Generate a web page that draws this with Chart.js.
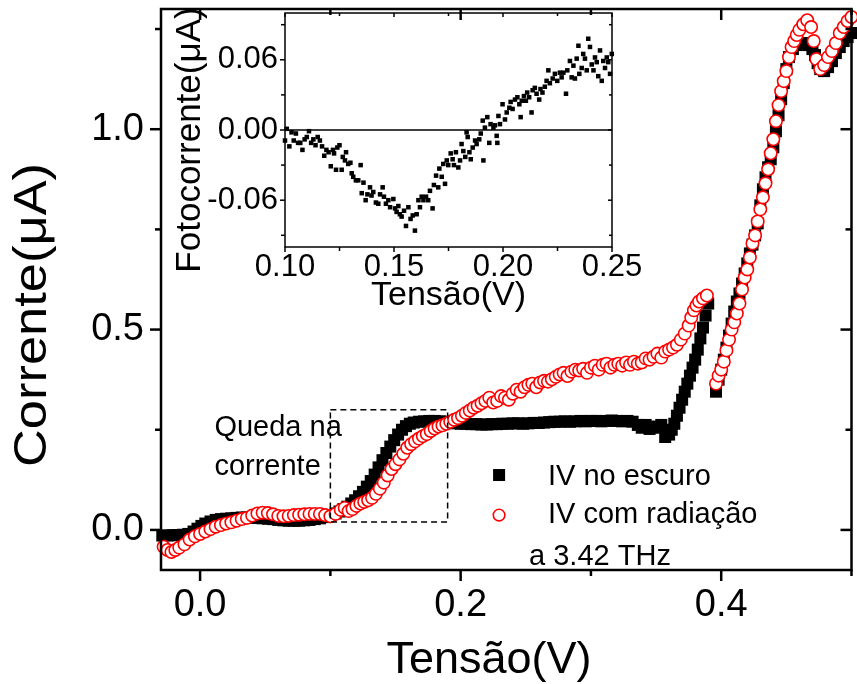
<!DOCTYPE html>
<html>
<head>
<meta charset="utf-8">
<script src="https://cdn.jsdelivr.net/npm/chart.js@4.4.1/dist/chart.umd.min.js"></script>
<style>
  html, body { margin: 0; padding: 0; background: #fff; overflow: hidden; }
  #wrap { position: relative; width: 857px; height: 684px; overflow: hidden; }
  #main { position: absolute; left: 0; top: 0; }
  #inset { position: absolute; left: 165px; top: 0; }
</style>
</head>
<body>
<div id="wrap">
  <canvas id="main" width="860" height="684"></canvas>
  <canvas id="inset" width="480" height="315"></canvas>
</div>
<script>
// IV curve in the dark (V, µA)
const darkV = [-0.029,-0.025,-0.021,-0.017,-0.013,-0.009,-0.005,-0.002,0.001,0.004,
  0.008,0.012,0.016,0.020,0.024,0.028,0.032,0.036,0.040,0.044,
  0.048,0.052,0.056,0.060,0.064,0.068,0.072,0.076,0.080,0.084,
  0.088,0.092,0.096,0.100,0.104,0.107,0.110,0.113,0.116,0.119,
  0.122,0.125,0.128,0.131,0.134,0.137,0.140,0.143,0.146,0.149,
  0.152,0.155,0.158,0.161,0.164,0.168,0.172,0.176,0.180,0.184,
  0.188,0.192,0.196,0.200,0.204,0.208,0.212,0.216,0.220,0.224,
  0.228,0.232,0.236,0.240,0.244,0.248,0.252,0.256,0.260,0.264,
  0.268,0.272,0.276,0.280,0.284,0.288,0.292,0.296,0.300,0.304,
  0.308,0.312,0.316,0.320,0.324,0.328,0.332,0.336,0.339,0.342,
  0.345,0.348,0.351,0.354,0.357,0.360,0.362,0.364,0.366,0.368,
  0.370,0.372,0.374,0.376,0.378,0.380,0.382,0.384,0.386,0.388,
  0.390,
  0.396,0.398,0.400,0.402,0.404,0.406,0.408,0.410,0.412,0.414,
  0.416,0.418,0.420,0.422,0.424,0.426,0.428,0.430,0.432,0.434,
  0.436,0.438,0.440,0.442,0.444,0.446,0.448,0.450,0.452,0.455,
  0.458,0.461,0.464,0.467,0.470,0.472,0.474,0.476,0.479,0.482,
  0.485,0.488,0.491,0.494,0.497,0.500];
const darkI = [-0.014,-0.014,-0.013,-0.013,-0.012,-0.010,-0.004,0.003,0.010,0.016,
  0.021,0.025,0.027,0.028,0.029,0.030,0.031,0.031,0.031,0.030,
  0.029,0.028,0.027,0.025,0.024,0.023,0.023,0.023,0.024,0.025,
  0.027,0.029,0.032,0.036,0.041,0.046,0.052,0.058,0.066,0.074,
  0.084,0.095,0.108,0.122,0.138,0.156,0.174,0.192,0.208,0.224,
  0.238,0.250,0.259,0.265,0.268,0.270,0.271,0.272,0.272,0.271,
  0.270,0.268,0.266,0.265,0.265,0.264,0.264,0.263,0.263,0.264,
  0.264,0.265,0.265,0.266,0.266,0.265,0.266,0.267,0.267,0.268,
  0.269,0.270,0.270,0.271,0.270,0.271,0.272,0.271,0.272,0.272,
  0.271,0.272,0.273,0.272,0.271,0.272,0.270,0.262,0.255,0.262,
  0.252,0.255,0.258,0.262,0.232,0.238,0.250,0.265,0.285,0.305,
  0.325,0.345,0.365,0.385,0.405,0.425,0.450,0.478,0.505,0.535,
  0.565,
  0.345,0.375,0.400,0.425,0.455,0.485,0.515,0.545,0.570,0.590,
  0.615,0.640,0.665,0.690,0.712,0.735,0.765,0.810,0.850,0.880,
  0.905,0.925,0.955,0.995,1.035,1.075,1.115,1.150,1.180,1.200,
  1.210,1.215,1.215,1.210,1.200,1.185,1.165,1.150,1.145,1.155,
  1.170,1.190,1.205,1.220,1.230,1.240];

// IV curve under 3.42 THz radiation (V, µA)
const radV = [-0.028,-0.025,-0.022,-0.019,-0.016,-0.012,-0.008,-0.004,0.000,0.004,
  0.008,0.012,0.016,0.020,0.024,0.028,0.032,0.036,0.040,0.044,
  0.048,0.052,0.056,0.060,0.064,0.068,0.072,0.076,0.080,0.084,
  0.088,0.092,0.096,0.100,0.104,0.108,0.111,0.114,0.117,0.120,
  0.123,0.126,0.129,0.132,0.135,0.138,0.141,0.144,0.147,0.150,
  0.153,0.156,0.159,0.162,0.165,0.168,0.171,0.174,0.177,0.180,
  0.183,0.186,0.189,0.192,0.195,0.198,0.201,0.204,0.207,0.210,
  0.213,0.216,0.219,0.222,0.225,0.228,0.231,0.234,0.237,0.240,
  0.243,0.246,0.249,0.252,0.255,0.258,0.261,0.264,0.267,0.270,
  0.273,0.276,0.279,0.282,0.285,0.288,0.291,0.294,0.297,0.300,
  0.303,0.306,0.309,0.312,0.315,0.318,0.321,0.324,0.327,0.330,
  0.333,0.336,0.339,0.342,0.345,0.348,0.351,0.354,0.357,0.360,
  0.363,0.366,0.369,0.372,0.375,0.377,0.379,0.381,0.383,0.386,
  0.389,
  0.396,0.398,0.400,0.402,0.404,0.406,0.408,0.410,0.412,0.414,
  0.416,0.418,0.420,0.422,0.424,0.426,0.428,0.430,0.432,0.434,
  0.436,0.438,0.440,0.442,0.444,0.446,0.448,0.450,0.452,0.454,
  0.456,0.458,0.460,0.463,0.466,0.469,0.471,0.473,0.476,0.479,
  0.482,0.485,0.488,0.491,0.494,0.497,0.500];
const radI = [-0.042,-0.050,-0.055,-0.050,-0.044,-0.036,-0.024,-0.016,-0.010,-0.004,
  0.002,0.008,0.012,0.016,0.019,0.023,0.027,0.030,0.036,0.041,
  0.043,0.042,0.039,0.035,0.034,0.035,0.037,0.038,0.039,0.040,
  0.040,0.040,0.037,0.034,0.040,0.050,0.055,0.047,0.052,0.060,
  0.066,0.070,0.074,0.080,0.090,0.103,0.118,0.136,0.152,0.164,
  0.176,0.190,0.205,0.214,0.221,0.228,0.234,0.239,0.247,0.253,
  0.258,0.261,0.265,0.270,0.275,0.279,0.285,0.292,0.298,0.305,
  0.310,0.316,0.322,0.330,0.318,0.322,0.334,0.330,0.325,0.340,
  0.350,0.345,0.356,0.362,0.365,0.356,0.368,0.372,0.370,0.376,
  0.382,0.388,0.392,0.384,0.395,0.400,0.398,0.402,0.392,0.405,
  0.410,0.400,0.412,0.415,0.405,0.412,0.415,0.410,0.418,0.412,
  0.420,0.415,0.418,0.428,0.425,0.432,0.440,0.430,0.445,0.450,
  0.455,0.462,0.475,0.490,0.510,0.530,0.548,0.560,0.570,0.578,
  0.585,
  0.365,0.385,0.400,0.420,0.448,0.475,0.500,0.518,0.540,0.565,
  0.600,0.630,0.650,0.680,0.715,0.735,0.770,0.800,0.830,0.865,
  0.900,0.940,0.975,1.020,1.060,1.095,1.120,1.145,1.180,1.205,
  1.220,1.235,1.248,1.262,1.272,1.255,1.220,1.175,1.150,1.160,
  1.180,1.195,1.215,1.240,1.255,1.270,1.280];

// photocurrent (difference of the two curves), inset
const fotoV = [0.1000,0.1008,0.1020,0.1030,0.1040,0.1050,0.1060,0.1070,0.1080,0.1090,
  0.1100,0.1110,0.1120,0.1130,0.1140,0.1150,0.1160,0.1170,0.1180,0.1190,
  0.1200,0.1210,0.1220,0.1225,0.1234,0.1240,0.1250,0.1260,0.1265,0.1275,
  0.1280,0.1290,0.1300,0.1306,0.1313,0.1325,0.1336,0.1347,0.1352,0.1360,
  0.1370,0.1378,0.1390,0.1397,0.1405,0.1417,0.1428,0.1436,0.1448,0.1454,
  0.1463,0.1474,0.1482,0.1497,0.1505,0.1512,0.1520,0.1527,0.1535,0.1546,
  0.1555,0.1566,0.1576,0.1586,0.1596,0.1604,0.1612,0.1619,0.1627,0.1635,
  0.1647,0.1657,0.1665,0.1677,0.1683,0.1693,0.1703,0.1708,0.1719,0.1726,
  0.1734,0.1742,0.1749,0.1760,0.1769,0.1775,0.1784,0.1795,0.1803,0.1810,
  0.1818,0.1827,0.1833,0.1838,0.1846,0.1852,0.1861,0.1872,0.1879,0.1891,
  0.1898,0.1907,0.1910,0.1917,0.1928,0.1937,0.1943,0.1956,0.1963,0.1971,
  0.1974,0.1979,0.1986,0.1998,0.2009,0.2017,0.2029,0.2035,0.2044,0.2055,
  0.2066,0.2075,0.2081,0.2086,0.2096,0.2105,0.2111,0.2120,0.2131,0.2136,
  0.2146,0.2154,0.2166,0.2172,0.2181,0.2192,0.2200,0.2208,0.2215,0.2228,
  0.2238,0.2249,0.2261,0.2269,0.2277,0.2289,0.2295,0.2307,0.2315,0.2323,
  0.2330,0.2338,0.2346,0.2350,0.2361,0.2368,0.2376,0.2384,0.2391,0.2399,
  0.2407,0.2415,0.2422,0.2430,0.2437,0.2445,0.2453,0.2460,0.2468,0.2476,
  0.2483,0.2491,0.2499];
const fotoI = [-0.009,0.001,-0.014,-0.002,-0.009,-0.003,-0.011,-0.011,-0.017,-0.008,
  -0.006,-0.001,-0.011,-0.008,-0.013,-0.006,-0.009,-0.014,-0.022,-0.017,
  -0.019,-0.031,-0.017,-0.020,-0.034,-0.015,-0.013,-0.034,-0.023,-0.026,
  -0.019,-0.029,-0.028,-0.037,-0.040,-0.043,-0.043,-0.030,-0.054,-0.045,
  -0.060,-0.055,-0.049,-0.056,-0.053,-0.062,-0.063,-0.055,-0.049,-0.057,
  -0.063,-0.060,-0.066,-0.059,-0.067,-0.070,-0.065,-0.072,-0.074,-0.069,
  -0.082,-0.066,-0.076,-0.073,-0.086,-0.072,-0.060,-0.066,-0.057,-0.060,
  -0.057,-0.060,-0.052,-0.067,-0.047,-0.039,-0.049,-0.033,-0.040,-0.029,
  -0.046,-0.026,-0.030,-0.020,-0.025,-0.030,-0.019,-0.032,-0.026,-0.012,
  -0.018,-0.023,-0.002,-0.006,-0.019,-0.025,-0.015,-0.009,-0.012,-0.008,
  -0.003,0.008,-0.026,0.002,0.011,-0.011,0.005,0.002,0.004,-0.005,
  -0.011,0.012,0.005,0.022,0.009,0.015,0.019,0.024,0.018,0.026,
  0.028,0.022,0.011,0.025,0.029,0.025,0.032,0.028,0.015,0.034,
  0.036,0.031,0.026,0.035,0.032,0.037,0.042,0.051,0.040,0.044,
  0.048,0.042,0.049,0.045,0.049,0.031,0.051,0.059,0.045,0.055,
  0.044,0.061,0.072,0.048,0.053,0.065,0.061,0.051,0.078,0.071,
  0.056,0.051,0.062,0.058,0.046,0.068,0.042,0.059,0.053,0.062,
  0.058,0.048,0.065];

// tick positions
const xMajor = [0, 0.2, 0.4];
const xMinor = [0.1, 0.3, 0.5];
const yMajor = [0, 0.5, 1.0];
const yMinor = [0.25, 0.75, 1.25];
const insetXMajor = [0.10, 0.15, 0.20, 0.25];
const insetXMinor = [0.125, 0.175, 0.225];
const insetYMajor = [-0.06, 0, 0.06];
const insetYMinor = [-0.09, -0.03, 0.03, 0.09];

// "Queda na corrente" box (V, µA)
const dropBoxV = [0.10, 0.19];
const dropBoxI = [0.02, 0.30];

const FONT = '"Liberation Sans", Arial, Helvetica, sans-serif';

function toPoints(xs, ys) {
  return xs.map((x, i) => ({ x: x, y: ys[i] }));
}

// text helper; stretch widens the glyphs along the writing direction
function label(ctx, str, px, py, size, align, rot, stretch) {
  ctx.save();
  ctx.font = size + 'px ' + FONT;
  ctx.fillStyle = '#000';
  ctx.textAlign = align || 'left';
  ctx.textBaseline = 'alphabetic';
  ctx.translate(px, py);
  if (rot) ctx.rotate(rot);
  if (stretch) ctx.scale(stretch, 1);
  ctx.fillText(str, 0, 0);
  ctx.restore();
}

// box around the plot plus tick marks (outside on left/bottom, inside on top/right)
function drawFrame(chart, o) {
  const ctx = chart.ctx, a = chart.chartArea;
  const sx = chart.scales.x, sy = chart.scales.y;
  ctx.save();
  ctx.strokeStyle = '#000';
  ctx.lineWidth = o.lw;
  ctx.lineCap = 'butt';
  ctx.strokeRect(a.left, a.top, a.right - a.left, a.bottom - a.top);
  const seg = (x0, y0, x1, y1) => {
    ctx.beginPath(); ctx.moveTo(x0, y0); ctx.lineTo(x1, y1); ctx.stroke();
  };
  const xt = (vals, out, inn) => vals.forEach(v => {
    const p = sx.getPixelForValue(v);
    seg(p, a.bottom, p, a.bottom + out);
    seg(p, a.top, p, a.top + inn);
  });
  const yt = (vals, out, inn) => vals.forEach(v => {
    const p = sy.getPixelForValue(v);
    seg(a.left - out, p, a.left, p);
    seg(a.right - inn, p, a.right, p);
  });
  xt(o.xMajor, o.outMajor, o.inMajor);
  xt(o.xMinor, o.outMinor, o.inMinor);
  yt(o.yMajor, o.outMajor, o.inMajor);
  yt(o.yMinor, o.outMinor, o.inMinor);
  ctx.restore();
}

const mainDecor = {
  id: 'mainDecor',
  afterDraw(chart) {
    const ctx = chart.ctx;
    const sx = chart.scales.x, sy = chart.scales.y;
    drawFrame(chart, {
      lw: 2.5, xMajor: xMajor, xMinor: xMinor, yMajor: yMajor, yMinor: yMinor,
      outMajor: 11, outMinor: 6, inMajor: 11, inMinor: 6
    });

    // dashed box around the drop region
    const bx0 = sx.getPixelForValue(dropBoxV[0]), bx1 = sx.getPixelForValue(dropBoxV[1]);
    const by0 = sy.getPixelForValue(dropBoxI[1]), by1 = sy.getPixelForValue(dropBoxI[0]);
    ctx.save();
    ctx.strokeStyle = '#000';
    ctx.lineWidth = 1.5;
    ctx.setLineDash([6, 4]);
    ctx.strokeRect(bx0, by0, bx1 - bx0, by1 - by0);
    ctx.restore();

    label(ctx, 'Queda na', sx.getPixelForValue(0.011), sy.getPixelForValue(0.234), 29);
    label(ctx, 'corrente', sx.getPixelForValue(0.011), sy.getPixelForValue(0.137), 29);

    // legend
    const mx = sx.getPixelForValue(0.2295);
    const tx = sx.getPixelForValue(0.267);
    ctx.save();
    ctx.fillStyle = '#000';
    const sq = sy.getPixelForValue(0.137);
    ctx.fillRect(mx - 6, sq - 6, 12, 12);
    ctx.strokeStyle = '#ff0000';
    ctx.fillStyle = '#fff';
    ctx.lineWidth = 1.6;
    ctx.beginPath();
    ctx.arc(mx, sy.getPixelForValue(0.037), 5.8, 0, Math.PI * 2);
    ctx.fill();
    ctx.stroke();
    ctx.restore();
    label(ctx, 'IV no escuro', tx, sy.getPixelForValue(0.112), 29);
    label(ctx, 'IV com radiação', tx, sy.getPixelForValue(0.0175), 29);
    label(ctx, 'a 3.42 THz', sx.getPixelForValue(0.2525), sy.getPixelForValue(-0.087), 29);

    // axis titles
    label(ctx, 'Tensão(V)', 489, 673, 45, 'center');
    label(ctx, 'Corrente(μA)', 46, 315, 46, 'center', -Math.PI / 2, 1.14);
  }
};

const insetDecor = {
  id: 'insetDecor',
  afterDraw(chart) {
    const ctx = chart.ctx, a = chart.chartArea;
    const z = chart.scales.y.getPixelForValue(0);
    ctx.save();
    ctx.strokeStyle = '#000';
    ctx.lineWidth = 1.5;
    ctx.beginPath(); ctx.moveTo(a.left, z); ctx.lineTo(a.right, z); ctx.stroke();
    ctx.restore();
    drawFrame(chart, {
      lw: 1.5, xMajor: insetXMajor, xMinor: insetXMinor, yMajor: insetYMajor, yMinor: insetYMinor,
      outMajor: 5, outMinor: 4, inMajor: 4, inMinor: 3
    });
    label(ctx, 'Tensão(V)', (a.left + a.right) / 2, 305, 34, 'center');
    label(ctx, 'Fotocorrente(μA)', 35, 140, 35, 'center', -Math.PI / 2);
  }
};

function tickFont(size) {
  return { family: FONT, size: size };
}

// keep the plot box fixed: no extra room for the end tick labels
function fixWidth(w) {
  return s => { s.width = w; s.paddingTop = 0; s.paddingBottom = 0; };
}
function fixHeight(h) {
  return s => { s.height = h; s.paddingLeft = 0; s.paddingRight = 0; };
}

new Chart(document.getElementById('main'), {
  type: 'scatter',
  data: {
    datasets: [
      {
        label: 'IV com radiação a 3.42 THz',
        data: toPoints(radV, radI),
        pointStyle: 'circle',
        pointRadius: 6.2,
        pointBorderWidth: 1.6,
        borderColor: '#ff0000',
        backgroundColor: '#ffffff',
        clip: false,
        order: 0
      },
      {
        label: 'IV no escuro',
        data: toPoints(darkV, darkI),
        pointStyle: 'rect',
        pointRadius: 8.5,
        pointBorderWidth: 0,
        borderColor: '#000000',
        backgroundColor: '#000000',
        clip: false,
        order: 1
      }
    ]
  },
  options: {
    responsive: false,
    animation: false,
    events: [],
    layout: { padding: { top: 9, right: 1, left: 0, bottom: 0 } },
    plugins: { legend: { display: false }, tooltip: { enabled: false } },
    scales: {
      x: {
        type: 'linear', min: -0.03, max: 0.5,
        grid: { display: false, drawTicks: false },
        border: { display: false },
        ticks: {
          font: tickFont(38), color: '#000', padding: 13, maxRotation: 0, autoSkip: false,
          callback: v => v.toFixed(1)
        },
        afterBuildTicks: s => { s.ticks = xMajor.map(v => ({ value: v })); },
        afterFit: fixHeight(114)
      },
      y: {
        type: 'linear', min: -0.1, max: 1.3,
        grid: { display: false, drawTicks: false },
        border: { display: false },
        ticks: {
          font: tickFont(38), color: '#000', padding: 17, autoSkip: false,
          callback: v => v.toFixed(1)
        },
        afterBuildTicks: s => { s.ticks = yMajor.map(v => ({ value: v })); },
        afterFit: fixWidth(161)
      }
    }
  },
  plugins: [mainDecor]
});

new Chart(document.getElementById('inset'), {
  type: 'scatter',
  data: {
    datasets: [{
      label: 'Fotocorrente',
      data: toPoints(fotoV, fotoI),
      pointStyle: 'rect',
      pointRadius: 3.2,
      pointBorderWidth: 0,
      borderColor: '#000000',
      backgroundColor: '#000000',
      clip: false
    }]
  },
  options: {
    responsive: false,
    animation: false,
    events: [],
    layout: { padding: { top: 13, right: 33, left: 0, bottom: 0 } },
    plugins: { legend: { display: false }, tooltip: { enabled: false } },
    scales: {
      x: {
        type: 'linear', min: 0.1, max: 0.25,
        grid: { display: false, drawTicks: false },
        border: { display: false },
        ticks: {
          font: tickFont(31), color: '#000', padding: 2, maxRotation: 0, autoSkip: false,
          callback: v => v.toFixed(2)
        },
        afterBuildTicks: s => { s.ticks = insetXMajor.map(v => ({ value: v })); },
        afterFit: fixHeight(68)
      },
      y: {
        type: 'linear', min: -0.1, max: 0.1,
        grid: { display: false, drawTicks: false },
        border: { display: false },
        ticks: {
          font: tickFont(31), color: '#000', padding: 7, autoSkip: false,
          callback: v => v.toFixed(2)
        },
        afterBuildTicks: s => { s.ticks = insetYMajor.map(v => ({ value: v })); },
        afterFit: fixWidth(120)
      }
    }
  },
  plugins: [insetDecor]
});
</script>
</body>
</html>
